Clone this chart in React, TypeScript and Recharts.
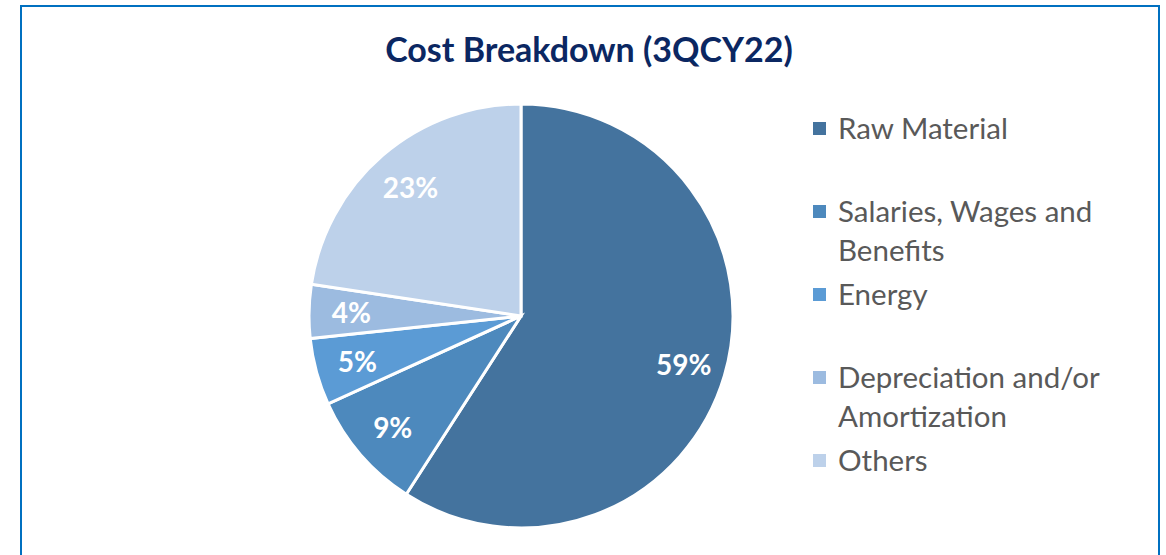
import React from "react";
import { PieChart, Pie, Cell, Legend } from "recharts";

const categories = [
  "Raw Material",
  "Salaries, Wages and Benefits",
  "Energy",
  "Depreciation and/or Amortization",
  "Others",
];
const shares = [59.1, 9.1, 5.1, 4.1, 22.6];
const colors = ["#44739E", "#4D89BD", "#5B9BD5", "#9CBBE0", "#BDD1EA"];
const title = "Cost Breakdown (3QCY22)";

const data = categories.map((name, i) => ({ name, value: shares[i] }));

const RAD = Math.PI / 180;
const renderLabel = (props: any) => {
  const { cx, cy, midAngle, outerRadius, percent } = props;
  const r = outerRadius * 0.8;
  const x = cx + r * Math.cos(-midAngle * RAD);
  const y = cy + r * Math.sin(-midAngle * RAD);
  return (
    <text
      x={x}
      y={y}
      fill="#FFFFFF"
      textAnchor="middle"
      dominantBaseline="central"
      fontFamily="Lato, sans-serif"
      fontWeight={700}
      fontSize={28}
    >
      {`${Math.round(percent * 100)}%`}
    </text>
  );
};

const renderLegend = (props: any) => {
  const payload = [...(props.payload || [])].sort(
    (a: any, b: any) => categories.indexOf(a.value) - categories.indexOf(b.value)
  );
  return (
    <div style={{ fontFamily: "Lato, sans-serif" }}>
      {payload.map((entry: any, i: number) => (
        <div
          key={i}
          style={{ position: "relative", height: 83, width: 310 }}
        >
          <div
            style={{
              position: "absolute",
              left: 0,
              top: 14,
              width: 13,
              height: 13,
              background: entry.color,
            }}
          />
          <div
            style={{
              position: "absolute",
              left: 25,
              top: 0,
              width: 285,
              fontSize: 29.5,
              lineHeight: "39px",
              color: "#595959",
            }}
          >
            {entry.value}
          </div>
        </div>
      ))}
    </div>
  );
};

export default function App() {
  return (
    <div
      style={{
        position: "absolute",
        left: 0,
        top: 0,
        width: 1166,
        height: 555,
        overflow: "hidden",
        background: "#FFFFFF",
      }}
    >
      <div
        style={{
          position: "absolute",
          left: 20,
          top: 5,
          width: 1136,
          height: 600,
          border: "2px solid #0070C0",
          borderBottom: "none",
        }}
      />
      <div
        style={{
          position: "absolute",
          left: 0,
          top: 28,
          width: 1178,
          textAlign: "center",
          fontFamily: "Lato, sans-serif",
          fontWeight: 700,
          fontSize: 34,
          color: "#0B2762",
        }}
      >
        {title}
      </div>
      <div style={{ position: "absolute", left: 0, top: 0 }}>
        <PieChart
          width={1166}
          height={555}
          margin={{ top: 0, right: 0, bottom: 0, left: 0 }}
        >
          <Pie
            data={data}
            dataKey="value"
            nameKey="name"
            cx={521}
            cy={316}
            outerRadius={212}
            startAngle={90}
            endAngle={-270}
            stroke="#FFFFFF"
            strokeWidth={3}
            labelLine={false}
            label={renderLabel}
            isAnimationActive={false}
          >
            {data.map((d, i) => (
              <Cell key={d.name} fill={colors[i]} />
            ))}
          </Pie>
          <Legend
            layout="vertical"
            content={renderLegend}
            wrapperStyle={{ position: "absolute", left: 813, top: 108, width: 320 }}
          />
        </PieChart>
      </div>
    </div>
  );
}
